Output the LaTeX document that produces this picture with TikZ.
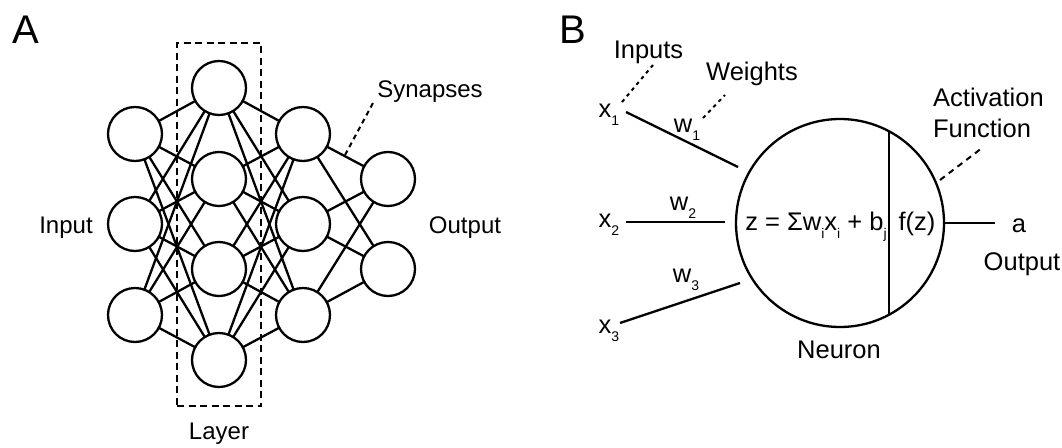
\documentclass[tikz,border=0pt]{standalone}
\usepackage{fontspec}
\setmainfont{Liberation Sans}
% lowered, smaller index for x_i, w_i, b_j
\newcommand\lowsub[1]{\raisebox{-8pt}{\fontsize{14}{14}\selectfont #1}}
\begin{document}
\begin{tikzpicture}[x=1pt,y=-1pt,line width=2.3pt,
  unit/.style={circle,draw,minimum size=54pt,inner sep=0pt,outer sep=0pt},
  lbla/.style={font=\fontsize{24}{28}\selectfont,anchor=base,inner sep=0pt},
  lblb/.style={font=\fontsize{25.5}{30}\selectfont,anchor=base,inner sep=0pt},
  panel/.style={font=\fontsize{40}{46}\selectfont,anchor=base,inner sep=0pt},
  boxdash/.style={line width=2pt,dash pattern=on 7pt off 4.5pt},
  syndash/.style={line width=2pt,dash pattern=on 5pt off 4pt},
  shortdash/.style={line width=2pt,dash pattern=on 3.5pt off 4pt},
  longdash/.style={line width=2pt,dash pattern=on 6pt off 5pt}]
\useasboundingbox (0,0) rectangle (1062,447);

% ---------- Panel A: feed-forward network ----------
\node[panel] (labA) at (26,43) {A};

\node[unit] (i1) at (135,134) {};
\node[unit] (i2) at (135,224) {};
\node[unit] (i3) at (135,315) {};

\node[unit] (h1) at (219,88) {};
\node[unit] (h2) at (219,179) {};
\node[unit] (h3) at (219,269) {};
\node[unit] (h4) at (219,360) {};

\node[unit] (g1) at (303,134) {};
\node[unit] (g2) at (303,224) {};
\node[unit] (g3) at (303,315) {};

\node[unit] (o1) at (388,179) {};
\node[unit] (o2) at (388,269) {};

\foreach \a in {1,2,3} \foreach \b in {1,2,3,4} \draw (i\a) -- (h\b);
\foreach \a in {1,2,3,4} \foreach \b in {1,2,3} \draw (h\a) -- (g\b);
\foreach \a in {1,2,3} \foreach \b in {1,2} \draw (g\a) -- (o\b);

\node[draw,boxdash,minimum width=84pt,minimum height=363pt,inner sep=0pt] (layerbox) at (219,224.5) {};
\node[lbla] (layer) at (219,439) {Layer};
\node[lbla] (input) at (66,233) {Input};
\node[lbla] (output) at (465,233) {Output};
\node[lbla] (synapses) at (430,97) {Synapses};
\coordinate (synfoot) at (345,155);
\coordinate (synhead) at (373,103);
\draw[syndash] (synfoot) -- (synhead);

% ---------- Panel B: single neuron ----------
\node[panel] (labB) at (573,43) {B};

\node[circle,draw,minimum size=208pt,inner sep=0pt,outer sep=0pt] (neuron) at (840,223) {};
\draw (neuron.62.5) -- (neuron.-62.5);

\node[lblb] (sum) at (816,230) {z = Σw\lowsub{i}x\lowsub{i} + b\lowsub{j}};
\node[lblb] (act) at (917,230) {f(z)};

\node[lblb] (x1) at (609,117) {x\lowsub{1}};
\node[lblb] (x2) at (609,227) {x\lowsub{2}};
\node[lblb] (x3) at (609,333) {x\lowsub{3}};

\node[lblb] (w1) at (687,132) {w\lowsub{1}};
\node[lblb] (w2) at (683,210) {w\lowsub{2}};
\node[lblb] (w3) at (686,282) {w\lowsub{3}};

\coordinate (x1s) at (626,112);  \coordinate (x1t) at (738,167);
\coordinate (x2s) at (626,222);  \coordinate (x2t) at (725,222);
\coordinate (x3s) at (620,323);  \coordinate (x3t) at (740,283);
\draw (x1s) -- (x1t);
\draw (x2s) -- (x2t);
\draw (x3s) -- (x3t);

\coordinate (aend) at (995,223);
\draw (neuron.east) -- (aend);
\node[lblb] (a) at (1019,232) {a};
\node[lblb] (outb) at (1022,270) {Output};
\node[lblb] (neuronlbl) at (839,358) {Neuron};

\node[lblb] (inputs) at (648.5,58) {Inputs};
\coordinate (inpfoot) at (622,102);
\coordinate (inphead) at (653,65);
\draw[shortdash] (inpfoot) -- (inphead);

\node[lblb] (weights) at (752,80) {Weights};
\coordinate (wfoot) at (703,118);
\coordinate (whead) at (725,95);
\draw[shortdash] (wfoot) -- (whead);

\node[lblb,anchor=base west] (actl1) at (932,106) {Activation};
\node[lblb,anchor=base west] (actl2) at (932,137) {Function};
\coordinate (actfoot) at (940,180);
\coordinate (acthead) at (982,148);
\draw[longdash] (actfoot) -- (acthead);
\end{tikzpicture}
\end{document}
